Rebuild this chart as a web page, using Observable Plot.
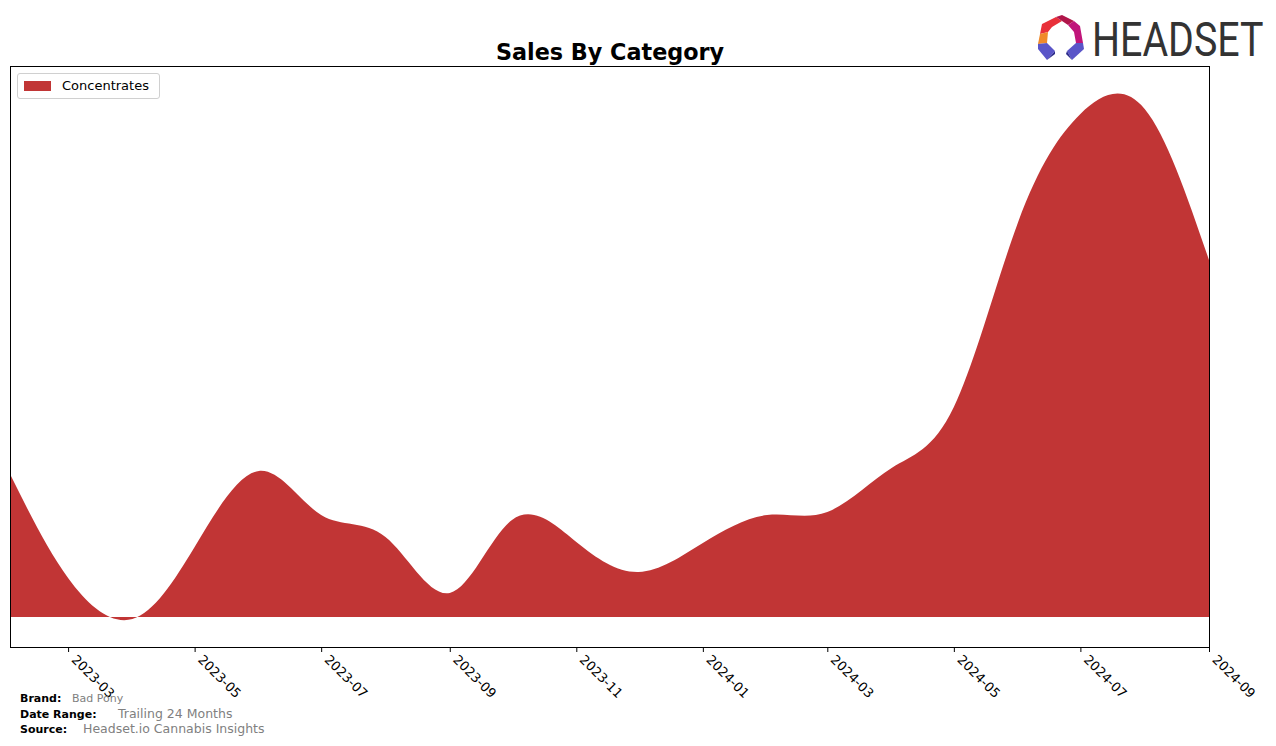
<!DOCTYPE html>
<html>
<head>
<meta charset="utf-8">
<script src="https://cdn.jsdelivr.net/npm/d3@7"></script>
<script src="https://cdn.jsdelivr.net/npm/@observablehq/plot@0.6"></script>
<style>
  html, body { margin: 0; padding: 0; background: #fff; }
  body { width: 1276px; height: 746px; position: relative; overflow: hidden; font-family: "DejaVu Sans", sans-serif; }
  #chart { position: absolute; left: 0; top: 0; }
  .title { position: absolute; left: 0; width: 1220px; top: 39px; text-align: center; font-weight: bold; font-size: 22.3px; color: #000; }
  .legend { position: absolute; left: 17px; top: 73px; width: 143px; height: 26px; border: 1px solid #d0d0d0; border-radius: 3px; background: #fff; box-sizing: border-box; }
  .legend .sw { position: absolute; left: 6px; top: 7px; width: 27px; height: 10px; background: #c13535; }
  .legend .lb { position: absolute; left: 44px; top: 4px; font-size: 13px; color: #000; }
  .foot { position: absolute; font-size: 11px; color: #000; font-weight: bold; }
  .fv { position: absolute; font-size: 12.5px; color: #808080; }
  #logo { position: absolute; left: 1034px; top: 0px; }
</style>
</head>
<body>
<div id="chart"></div>
<div class="title">Sales By Category</div>
<div class="legend"><div class="sw"></div><div class="lb">Concentrates</div></div>
<div class="foot" style="left:20px;top:692px;">Brand:</div>
<div class="fv" style="left:72px;top:692px;font-size:11px;">Bad Pony</div>
<div class="foot" style="left:20px;top:708px;">Date Range:</div>
<div class="fv" style="left:118px;top:706px;">Trailing 24 Months</div>
<div class="foot" style="left:20px;top:723px;">Source:</div>
<div class="fv" style="left:83px;top:721px;">Headset.io Cannabis Insights</div>
<svg id="logo" width="240" height="80" viewBox="0 0 240 80">
  <g transform="translate(0,12)">
  <polygon points="8,12 22,5 28,9 18,15 14,20 6,22" fill="#e8303a"/>
  <polygon points="22,5 28,3 40,9 34,13 28,9" fill="#b0154a"/>
  <polygon points="40,9 46,14 49,31 42,31 40,20 34,13" fill="#c0157a"/>
  <polygon points="6,22 14,20 13,31 4,32" fill="#f08a2a"/>
  <polygon points="4,32 13,31 21,39 13,48 4,37" fill="#5a55c8"/>
  <polygon points="13,48 21,39 21,42" fill="#2a2a8a"/>
  <polygon points="42,31 49,31 50,37 38,48 33,39" fill="#5a55c8"/>
  <polygon points="33,39 38,48 32,42" fill="#2a2a8a"/>
  <g transform="translate(58,44) scale(0.82,1)">
    <text x="0" y="0" font-family="Roboto, 'DejaVu Sans', sans-serif" font-size="48" fill="#333">HEADSET</text>
  </g>
  </g>
</svg>
<script>
const months = ["2023-02","2023-03","2023-04","2023-05","2023-06","2023-07","2023-08","2023-09","2023-10","2023-11","2023-12","2024-01","2024-02","2024-03","2024-04","2024-05","2024-06","2024-07","2024-08","2024-09"];
const concentrates = [143, 39, -2, 70, 146, 102, 80, 24, 97, 75, 45, 74, 102, 105, 149, 210, 395, 503, 508, 357];
const tickLabels = ["2023-03","2023-05","2023-07","2023-09","2023-11","2024-01","2024-03","2024-05","2024-07","2024-09"];

const parse = d3.utcParse("%Y-%m");
const data = months.map((m, i) => ({date: parse(m), value: concentrates[i]}));
const ticks = tickLabels.map(parse);

const chart = Plot.plot({
  width: 1276,
  height: 746,
  marginLeft: 10,
  marginRight: 67,
  marginTop: 66,
  marginBottom: 99,
  style: {fontFamily: "'DejaVu Sans', sans-serif", fontSize: "13px", background: "transparent"},
  x: {type: "utc", domain: [data[0].date, data[data.length - 1].date]},
  y: {domain: [-30, 551], axis: null},
  marks: [
    Plot.areaY(data, {x: "date", y: "value", curve: "natural", fill: "#c13535"}),
    Plot.frame({stroke: "#000", strokeWidth: 1}),
    Plot.axisX({ticks: ticks, tickSize: 5, tickFormat: () => "", color: "#000", label: null}),
    Plot.axisX({ticks: ticks, tickFormat: d3.utcFormat("%Y-%m"), tickRotate: 45, tickSize: 0, tickPadding: 9, dx: 5, dy: 1, fontSize: 13, color: "#000", label: null})
  ]
});
document.getElementById("chart").appendChild(chart);
</script>
</body>
</html>
